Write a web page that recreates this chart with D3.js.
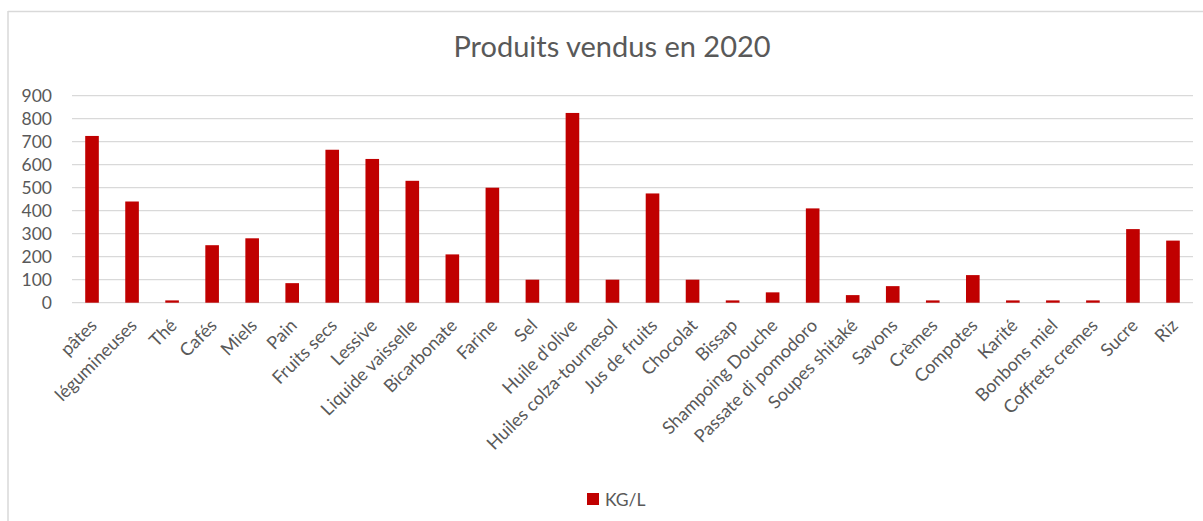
<!DOCTYPE html>
<html>
<head>
<meta charset="utf-8">
<script src="https://cdn.jsdelivr.net/npm/d3@7"></script>
<style>
  body { margin: 0; background: #fff; }
  svg { display: block; font-family: Lato, "Open Sans", sans-serif; }
</style>
</head>
<body>
<svg id="chart" width="1203" height="521"></svg>
<script>
// data
const categories = ["pâtes", "légumineuses", "Thé", "Cafés", "Miels", "Pain", "Fruits secs", "Lessive",
  "Liquide vaisselle", "Bicarbonate", "Farine", "Sel", "Huile d'olive", "Huiles colza-tournesol",
  "Jus de fruits", "Chocolat", "Bissap", "Shampoing Douche", "Passate di pomodoro", "Soupes shitaké",
  "Savons", "Crèmes", "Compotes", "Karité", "Bonbons miel", "Coffrets cremes", "Sucre", "Riz"];
const values = [725, 440, 10, 250, 280, 85, 665, 625,
  530, 210, 500, 100, 825, 100,
  475, 100, 10, 45, 410, 33,
  72, 10, 120, 10, 10, 10, 320, 270];
const yTicks = [0, 100, 200, 300, 400, 500, 600, 700, 800, 900];
const seriesName = "KG/L";
const chartTitle = "Produits vendus en 2020";

const svg = d3.select("#chart");
const plotLeft = 72, plotRight = 1193, plotTop = 95.7, plotBottom = 302.7;
const barColor = "#c00000";
const textColor = "#595959";

// frame (only top and left edges show)
svg.append("line").attr("x1", 8).attr("y1", 11.5).attr("x2", 1203).attr("y2", 11.5)
  .attr("stroke", "#d9d9d9").attr("stroke-width", 1.5);
svg.append("line").attr("x1", 8).attr("y1", 11).attr("x2", 8).attr("y2", 521)
  .attr("stroke", "#d9d9d9").attr("stroke-width", 1.5);

const x = d3.scaleBand().domain(categories).range([plotLeft, plotRight]).paddingInner(0.66).paddingOuter(0.33);
const y = d3.scaleLinear().domain([0, 900]).range([plotBottom, plotTop]);

// gridlines
svg.append("g").selectAll("line").data(yTicks).join("line")
  .attr("x1", plotLeft).attr("x2", plotRight)
  .attr("y1", d => y(d)).attr("y2", d => y(d))
  .attr("stroke", "#d9d9d9").attr("stroke-width", 1.3);

// y labels
const yAxis = svg.append("g").attr("transform", `translate(${plotLeft},0)`)
  .call(d3.axisLeft(y).tickValues(yTicks).tickSize(0).tickPadding(20));
yAxis.select(".domain").remove();
yAxis.selectAll("text").attr("fill", textColor).attr("font-size", 17.5)
  .attr("font-family", "Lato, 'Open Sans', sans-serif");

// bars
svg.append("g").selectAll("rect").data(values).join("rect")
  .attr("x", (d, i) => x(categories[i]))
  .attr("width", x.bandwidth())
  .attr("y", d => y(d))
  .attr("height", d => y(0) - y(d))
  .attr("fill", barColor);

// x labels rotated
svg.append("g").selectAll("text").data(categories).join("text")
  .attr("transform", d => `translate(${x(d) + x.bandwidth() / 2 + 6},${plotBottom + 24}) rotate(-45)`)
  .attr("text-anchor", "end")
  .attr("fill", textColor)
  .attr("font-size", 18)
  .text(d => d);

// title
svg.append("text").attr("x", 612).attr("y", 57).attr("text-anchor", "middle")
  .attr("fill", textColor).attr("font-size", 29).text(chartTitle);

// legend
const lg = svg.append("g").attr("transform", "translate(587,493)");
lg.append("rect").attr("width", 12).attr("height", 12).attr("fill", barColor);
lg.append("text").attr("x", 18).attr("y", 12.5).attr("fill", textColor).attr("font-size", 17.5).text(seriesName);
</script>
</body>
</html>
